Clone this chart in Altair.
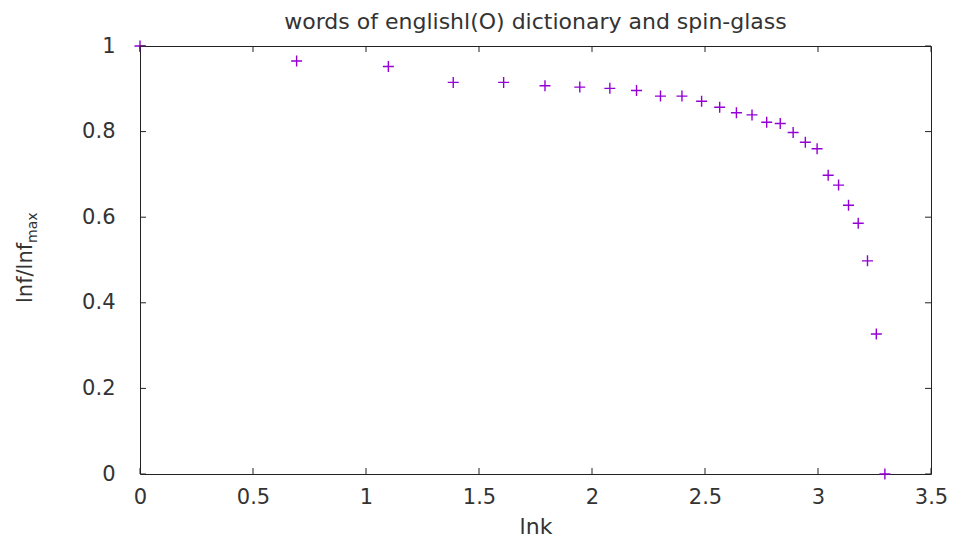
import altair as alt
import pandas as pd

# data
lnk = [0.0, 0.693, 1.099, 1.386, 1.609, 1.792, 1.946, 2.079, 2.197, 2.303,
       2.398, 2.485, 2.565, 2.639, 2.708, 2.773, 2.833, 2.890, 2.944, 2.996,
       3.045, 3.091, 3.135, 3.178, 3.219, 3.258, 3.296]
ratio = [1.0, 0.965, 0.952, 0.915, 0.915, 0.907, 0.904, 0.901, 0.896, 0.883,
         0.883, 0.871, 0.857, 0.844, 0.839, 0.822, 0.819, 0.798, 0.775, 0.760,
         0.698, 0.675, 0.628, 0.586, 0.498, 0.327, 0.0]
x_ticks = [0, 0.5, 1, 1.5, 2, 2.5, 3, 3.5]
y_ticks = [0, 0.2, 0.4, 0.6, 0.8, 1]

W, H = 791, 428
FONT = "DejaVu Sans"
TXT = "#333333"
PURPLE = "#9400D3"
TICK = 6

df = pd.DataFrame({"lnk": lnk, "ratio": ratio})
xt = pd.DataFrame({"xt": x_ticks})
yt = pd.DataFrame({"yt": y_ticks})

xscale = alt.Scale(domain=[0, 3.5], nice=False, zero=False)
yscale = alt.Scale(domain=[0, 1], nice=False, zero=False)
common = dict(grid=False, domain=False, ticks=False, labelFont=FONT,
              labelFontSize=21, labelColor=TXT, titleFont=FONT,
              titleFontSize=22, titleColor=TXT, titleFontWeight="normal",
              format="~g", labelFlush=False, labelOverlap=False)
xaxis = alt.Axis(values=x_ticks, title="lnk", labelPadding=12, titlePadding=9,
                 **common)
yaxis = alt.Axis(values=y_ticks, title=None, labelPadding=25, **common)

plus = "M-1,0L1,0M0,-1L0,1"

points = alt.Chart(df).mark_point(
    shape=plus, filled=False, color=PURPLE, strokeWidth=1.4, size=121, opacity=1
).encode(
    x=alt.X("lnk:Q", scale=xscale, axis=xaxis),
    y=alt.Y("ratio:Q", scale=yscale, axis=yaxis),
)

tick_bottom = alt.Chart(xt).mark_rule(color="#222", strokeWidth=1).encode(
    x=alt.X("xt:Q", scale=xscale, axis=xaxis),
    y=alt.value(H), y2=alt.value(H - TICK))
tick_top = alt.Chart(xt).mark_rule(color="#222", strokeWidth=1).encode(
    x=alt.X("xt:Q", scale=xscale, axis=xaxis),
    y=alt.value(0), y2=alt.value(TICK))
tick_left = alt.Chart(yt).mark_rule(color="#222", strokeWidth=1).encode(
    y=alt.Y("yt:Q", scale=yscale, axis=yaxis),
    x=alt.value(0), x2=alt.value(TICK))
tick_right = alt.Chart(yt).mark_rule(color="#222", strokeWidth=1).encode(
    y=alt.Y("yt:Q", scale=yscale, axis=yaxis),
    x=alt.value(W), x2=alt.value(W - TICK))

ylab_main = alt.Chart(pd.DataFrame({"t": ["lnf/lnf"]})).mark_text(
    angle=270, align="left", baseline="alphabetic", font=FONT, fontSize=21,
    color=TXT).encode(x=alt.value(-108), y=alt.value(257), text="t:N")
ylab_sub = alt.Chart(pd.DataFrame({"t": ["max"]})).mark_text(
    angle=270, align="left", baseline="alphabetic", font=FONT, fontSize=14,
    color=TXT).encode(x=alt.value(-103), y=alt.value(197), text="t:N")

chart = alt.layer(
    points, tick_bottom, tick_top, tick_left, tick_right, ylab_main, ylab_sub
).properties(
    width=W, height=H,
    background="white",
    title=alt.TitleParams("words of englishl(O) dictionary and spin-glass",
                          font=FONT, fontSize=22, fontWeight="normal",
                          color=TXT, anchor="middle", offset=1),
    autosize=alt.AutoSizeParams(type="none"),
    padding={"left": 132, "top": 38, "right": 17, "bottom": 69},
).configure_view(
    stroke="#222", strokeWidth=1
)

chart.save("out.html", embed_options={"renderer": "svg", "actions": False})
